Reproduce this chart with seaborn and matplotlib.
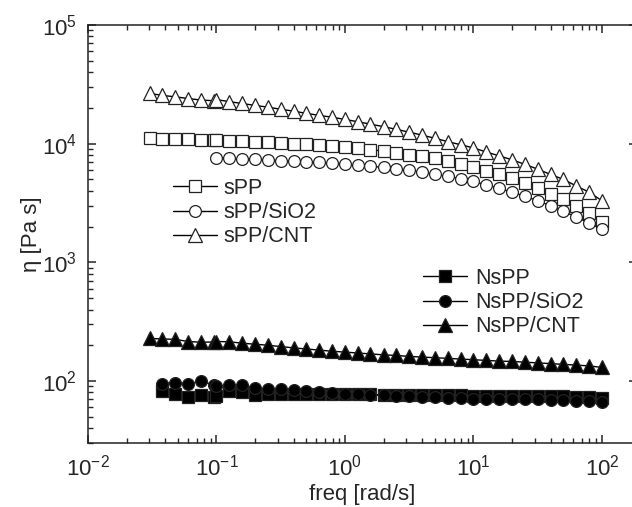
import pandas as pd
import matplotlib
matplotlib.use("Agg")
import matplotlib.pyplot as plt
import seaborn as sns

# frequency grid of the two sweeps [rad/s]
freqLow = [0.0302, 0.038, 0.0479, 0.0603, 0.0759, 0.0955]
freqHigh = [0.1, 0.126, 0.158, 0.2, 0.251, 0.316, 0.398, 0.501, 0.631, 0.794,
            1.0, 1.26, 1.58, 2.0, 2.51, 3.16, 3.98, 5.01, 6.31, 7.94,
            10.0, 12.6, 15.8, 20.0, 25.1, 31.6, 39.8, 50.1, 63.1, 79.4, 100.0]

# complex viscosity [Pa s]
sPP_low = [11100, 11000, 10900, 10900, 10800, 10800]
sPP_high = [10700, 10600, 10500, 10400, 10300, 10100, 10000, 9850, 9700, 9550,
            9350, 9150, 8900, 8650, 8400, 8100, 7800, 7500, 7100, 6700,
            6300, 5900, 5500, 5100, 4700, 4250, 3800, 3400, 3000, 2600, 2200]

sPP_SiO2_high = [7600, 7500, 7450, 7400, 7300, 7200, 7150, 7050, 6950, 6850,
                 6750, 6600, 6450, 6300, 6150, 5950, 5750, 5500, 5300, 5050,
                 4800, 4500, 4200, 3900, 3600, 3300, 3000, 2700, 2400, 2150, 1900]

sPP_CNT_low = [26500, 25500, 24800, 24000, 23300, 23000]
sPP_CNT_high = [23500, 22600, 21800, 21000, 20300, 19500, 18800, 18000, 17300, 16700,
                16000, 15300, 14600, 13900, 13200, 12500, 11800, 11100, 10400, 9800,
                9200, 8500, 7900, 7300, 6700, 6100, 5500, 5000, 4400, 3900, 3300]

NsPP_low = [82, 78, 73, 76, 73]
NsPP_high = [75, 82, 80, 76, 77, 77, 78, 78, 77, 77,
             77, 77, 77, 76, 76, 76, 76, 76, 76, 76,
             75, 75, 75, 75, 75, 74, 74, 74, 73, 73, 72]

NsPP_SiO2_low = [95, 97, 95, 99, 93]
NsPP_SiO2_high = [90, 92, 92, 88, 85, 85, 84, 82, 80, 79,
                  78, 77, 76, 76, 75, 74, 73, 73, 72, 72,
                  71, 71, 71, 70, 70, 70, 69, 69, 68, 68, 67]

NsPP_CNT_low = [228, 226, 224, 215, 212, 213]
NsPP_CNT_high = [215, 214, 208, 204, 200, 195, 190, 186, 182, 178,
                 175, 172, 169, 166, 164, 161, 159, 157, 155, 153,
                 151, 149, 147, 146, 144, 142, 140, 138, 136, 134, 130]

series = [
  ("sPP", freqLow + freqHigh, sPP_low + sPP_high, "s", "white", 8),
  ("sPP/SiO2", freqHigh, sPP_SiO2_high, "o", "white", 8.5),
  ("sPP/CNT", freqLow + freqHigh, sPP_CNT_low + sPP_CNT_high, "^", "white", 10),
  ("NsPP", freqLow[1:] + freqHigh, NsPP_low + NsPP_high, "s", "black", 8),
  ("NsPP/SiO2", freqLow[1:] + freqHigh, NsPP_SiO2_low + NsPP_SiO2_high, "o", "black", 8.5),
  ("NsPP/CNT", freqLow + freqHigh, NsPP_CNT_low + NsPP_CNT_high, "^", "black", 10),
]

sns.set_style("ticks")
plt.rcParams['font.family'] = ['Liberation Sans', 'DejaVu Sans']
plt.rcParams['mathtext.fontset'] = 'custom'
plt.rcParams['mathtext.rm'] = 'Liberation Sans'
plt.rcParams['mathtext.it'] = 'Liberation Sans:italic'
plt.rcParams['axes.unicode_minus'] = False

fig = plt.figure(figsize=(6.32, 5.07), dpi=100)
ax = fig.add_axes([88/632, 64/507, 549/632, 418/507])

handles = []
for name, x, y, marker, face, size in series:
  df = pd.DataFrame({"freq": x, "eta": y})
  sns.lineplot(data=df, x="freq", y="eta", ax=ax, estimator=None, sort=True,
               color="black", linewidth=1.0, marker=marker, markersize=size,
               markerfacecolor=face, markeredgecolor="#222222", markeredgewidth=0.9,
               label=name, legend=False)
  handles.append(ax.get_lines()[-1])

ax.set_xscale("log")
ax.set_yscale("log")
ax.set_xlim(0.01, 10 ** (2 + 35 / 128.3))
ax.set_ylim(30, 1e5)

ax.set_xlabel("freq [rad/s]", fontsize=16, labelpad=3)
ax.set_ylabel("η [Pa s]", fontsize=16, labelpad=0)

ax.tick_params(which="both", direction="in", top=True, right=True, labelsize=16)
ax.tick_params(which="major", length=6, width=1.1, pad=8)
ax.tick_params(which="minor", length=3.5, width=1.0)
for sp in ax.spines.values():
  sp.set_linewidth(1.1)
  sp.set_color("#222222")

legStyle = dict(loc="upper left", bbox_transform=fig.transFigure, frameon=False,
                fontsize=15.5, handlelength=2.05, handletextpad=0.3,
                labelspacing=0.15, borderpad=0, borderaxespad=0)
legOpen = ax.legend(handles=handles[:3], labels=["sPP", "sPP/SiO2", "sPP/CNT"],
                    bbox_to_anchor=(173/632, 1 - 178/507), **legStyle)
ax.add_artist(legOpen)
legStyle["handletextpad"] = 0.4
ax.legend(handles=handles[3:], labels=["NsPP", "NsPP/SiO2", "NsPP/CNT"],
          bbox_to_anchor=(423/632, 1 - 268/507), **legStyle)

fig.savefig("out.png", dpi=100)
